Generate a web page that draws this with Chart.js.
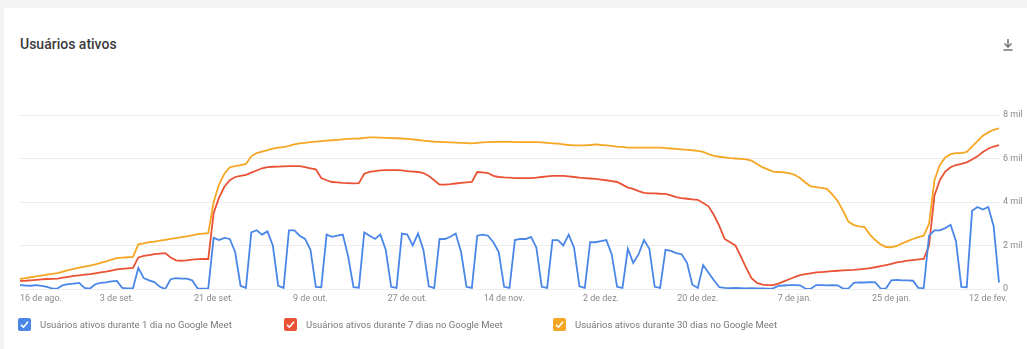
<!DOCTYPE html>
<html lang="pt-BR">
<head>
<meta charset="utf-8">
<script src="https://cdn.jsdelivr.net/npm/chart.js@4.4.1/dist/chart.umd.min.js"></script>
<style>
  html, body { margin: 0; padding: 0; background: #f3f3f3; width: 1027px; height: 349px; overflow: hidden; }
  #card { position: absolute; left: 4px; top: 8px; width: 1023px; height: 341px; background: #fff; }
  #title { position: absolute; left: 20px; top: 36px; font: 500 14px Roboto, sans-serif; color: #3a3a3a; }
  #download { position: absolute; left: 1002px; top: 38px; }
  #chart { position: absolute; left: 0; top: 0; }
  #legend { position: absolute; left: 18px; top: 318px; font: 9.5px Roboto, sans-serif; color: #7a7a7a; }
  .item { position: absolute; top: 0; white-space: nowrap; display: flex; align-items: center; }
  .box { width: 13px; height: 13px; border-radius: 2px; margin-right: 9px; display: flex; align-items: center; justify-content: center; }
</style>
</head>
<body>
<div id="card"></div>
<div id="title">Usuários ativos</div>
<svg id="download" width="12" height="14" viewBox="0 0 12 14">
  <path d="M6 1 V9 M2.5 5.5 L6 9 L9.5 5.5" stroke="#7a7a7a" stroke-width="1.6" fill="none"/>
  <path d="M1.5 12 H10.5" stroke="#7a7a7a" stroke-width="1.6"/>
</svg>
<canvas id="chart" width="1027" height="349"></canvas>
<div id="legend"></div>
<script>
// Tick labels, one every 18 days starting at 16 de ago.
const tickLabels = ['16 de ago.', '3 de set.', '21 de set.', '9 de out.', '27 de out.', '14 de nov.',
                    '2 de dez.', '20 de dez.', '7 de jan.', '25 de jan.', '12 de fev.'];
const tickEvery = 18;

// Daily values, thousands of users
const ativos1Dia = [
  0.18,0.16,0.15,0.18,0.14,0.10,0.02,0.03,0.18,0.22,
  0.25,0.28,0.05,0.02,0.22,0.28,0.30,0.35,0.37,0.05,
  0.03,0.04,0.97,0.50,0.40,0.32,0.10,0.00,0.45,0.50,
  0.48,0.48,0.40,0.03,0.02,0.03,2.35,2.25,2.35,2.30,
  1.70,0.15,0.05,2.60,2.70,2.50,2.65,2.00,0.15,0.05,
  2.70,2.70,2.45,2.30,1.80,0.10,0.08,2.50,2.40,2.45,
  2.50,1.50,0.08,0.06,2.60,2.45,2.30,2.50,1.80,0.10,
  0.05,2.55,2.50,2.00,2.55,1.80,0.12,0.04,2.30,2.30,
  2.40,2.55,1.70,0.10,0.05,2.45,2.50,2.45,2.15,1.70,
  0.10,0.05,2.25,2.30,2.30,2.40,1.90,0.10,0.05,2.25,
  2.25,2.00,2.50,1.90,0.12,0.05,2.15,2.15,2.20,2.25,
  1.60,0.10,0.05,1.85,1.20,1.60,2.25,1.85,0.10,0.05,
  1.80,1.75,1.65,1.60,1.20,0.20,0.05,1.10,0.75,0.40,
  0.08,0.05,0.04,0.05,0.04,0.03,0.04,0.03,0.03,0.02,
  0.03,0.14,0.16,0.18,0.18,0.17,0.02,0.01,0.18,0.18,
  0.17,0.18,0.17,0.02,0.02,0.28,0.30,0.30,0.32,0.30,
  0.02,0.03,0.40,0.42,0.40,0.40,0.38,0.05,0.04,2.45,
  2.70,2.70,2.80,2.95,2.20,0.10,0.08,3.60,3.77,3.65,
  3.77,2.90,0.30
];

const ativos7Dias = [
  0.37,0.38,0.40,0.42,0.44,0.46,0.47,0.48,0.52,0.56,
  0.60,0.63,0.66,0.68,0.72,0.76,0.80,0.85,0.90,0.93,
  0.95,0.97,1.45,1.52,1.56,1.60,1.63,1.65,1.45,1.32,
  1.30,1.32,1.35,1.37,1.38,1.38,3.50,4.20,4.70,5.00,
  5.15,5.20,5.25,5.35,5.45,5.55,5.60,5.62,5.63,5.64,
  5.65,5.65,5.65,5.60,5.55,5.50,5.10,5.00,4.92,4.90,
  4.88,4.87,4.86,4.87,5.30,5.38,5.42,5.45,5.47,5.47,
  5.47,5.45,5.42,5.40,5.38,5.33,5.20,5.00,4.80,4.80,
  4.82,4.85,4.88,4.90,4.92,5.38,5.36,5.33,5.20,5.15,
  5.13,5.12,5.10,5.10,5.10,5.10,5.12,5.15,5.18,5.20,
  5.20,5.20,5.18,5.15,5.12,5.10,5.08,5.06,5.03,5.00,
  4.96,4.92,4.80,4.66,4.60,4.50,4.42,4.40,4.40,4.38,
  4.37,4.30,4.22,4.18,4.15,4.12,4.10,3.95,3.80,3.40,
  2.90,2.30,2.15,2.00,1.50,0.97,0.50,0.28,0.20,0.18,
  0.18,0.25,0.35,0.45,0.55,0.64,0.68,0.72,0.76,0.78,
  0.80,0.82,0.84,0.86,0.87,0.88,0.90,0.93,0.96,1.00,
  1.05,1.10,1.15,1.22,1.26,1.30,1.33,1.36,1.38,2.00,
  4.30,5.00,5.40,5.60,5.70,5.75,5.82,5.95,6.10,6.30,
  6.45,6.55,6.62
];

const ativos30Dias = [
  0.46,0.50,0.54,0.58,0.62,0.66,0.70,0.73,0.80,0.87,
  0.93,0.98,1.03,1.08,1.13,1.20,1.27,1.35,1.42,1.44,
  1.46,1.48,2.05,2.10,2.15,2.18,2.22,2.26,2.30,2.34,
  2.38,2.42,2.47,2.52,2.55,2.57,4.00,4.80,5.30,5.60,
  5.65,5.70,5.75,6.10,6.25,6.32,6.38,6.45,6.50,6.52,
  6.58,6.65,6.70,6.72,6.75,6.78,6.80,6.82,6.84,6.86,
  6.88,6.90,6.91,6.92,6.95,6.97,6.97,6.96,6.95,6.94,
  6.93,6.92,6.90,6.88,6.85,6.82,6.80,6.77,6.76,6.75,
  6.74,6.73,6.72,6.71,6.70,6.72,6.74,6.75,6.76,6.76,
  6.76,6.76,6.75,6.75,6.75,6.75,6.75,6.74,6.72,6.70,
  6.68,6.65,6.62,6.60,6.60,6.60,6.62,6.65,6.62,6.60,
  6.58,6.55,6.53,6.50,6.50,6.50,6.50,6.50,6.50,6.50,
  6.48,6.46,6.44,6.42,6.40,6.38,6.35,6.30,6.20,6.12,
  6.08,6.05,6.02,6.00,5.98,5.96,5.90,5.75,5.60,5.50,
  5.40,5.38,5.36,5.33,5.25,5.10,4.90,4.72,4.68,4.65,
  4.60,4.35,4.05,3.60,3.10,2.94,2.88,2.85,2.50,2.25,
  2.05,1.93,1.92,1.98,2.10,2.20,2.30,2.38,2.45,3.00,
  5.00,5.70,6.05,6.20,6.25,6.25,6.30,6.55,6.80,7.05,
  7.20,7.32,7.38
];

const seriesNames = [
  'Usuários ativos durante 1 dia no Google Meet',
  'Usuários ativos durante 7 dias no Google Meet',
  'Usuários ativos durante 30 dias no Google Meet'
];
const lineColors = ['#4a86e8', '#ea5235', '#f5a623'];

const days = ativos1Dia.map((_, i) => i);
const tickFont = { family: 'Roboto, sans-serif', size: 9 };

const chart = new Chart(document.getElementById('chart').getContext('2d'), {
    type: 'line',
    data: {
        labels: days,
        datasets: [ativos1Dia, ativos7Dias, ativos30Dias].map((values, k) => ({
            label: seriesNames[k],
            data: values,
            borderColor: lineColors[k],
            backgroundColor: lineColors[k],
            borderWidth: 1.8,
            pointRadius: 0,
            tension: 0
        }))
    },
    options: {
        responsive: false,
        animation: false,
        layout: { padding: { left: 20, right: 0, top: 115, bottom: 40 } },
        plugins: { legend: { display: false }, tooltip: { enabled: false } },
        scales: {
            x: {
                grid: { display: false, drawTicks: false },
                border: { display: false },
                ticks: {
                    autoSkip: false, maxRotation: 0, align: 'inner', padding: 4,
                    font: tickFont, color: '#8a8a8a',
                    callback: (v, i) => i % tickEvery === 0 ? tickLabels[i / tickEvery] : ''
                },
                afterFit: s => { s.height = 20; }
            },
            y: {
                position: 'right', min: 0, max: 8,
                grid: { color: '#ececec', drawTicks: false },
                border: { display: false },
                ticks: {
                    stepSize: 2, padding: 4, font: tickFont, color: '#8a8a8a',
                    callback: v => v === 0 ? '0' : v + ' mil'
                },
                afterFit: s => { s.width = 28; }
            }
        }
    }
});

// Legend with check boxes
const legendX = [0, 266, 535];
const legend = document.getElementById('legend');
chart.data.datasets.forEach((ds, k) => {
    const item = document.createElement('div');
    item.className = 'item';
    item.style.left = legendX[k] + 'px';
    item.innerHTML = '<span class="box" style="background:' + ds.borderColor + '">' +
        '<svg width="9" height="9" viewBox="0 0 9 9"><path d="M1 4.8 L3.5 7.2 L8 1.8" stroke="#fff" stroke-width="1.6" fill="none"/></svg>' +
        '</span>' + ds.label;
    legend.appendChild(item);
});
</script>
</body>
</html>
